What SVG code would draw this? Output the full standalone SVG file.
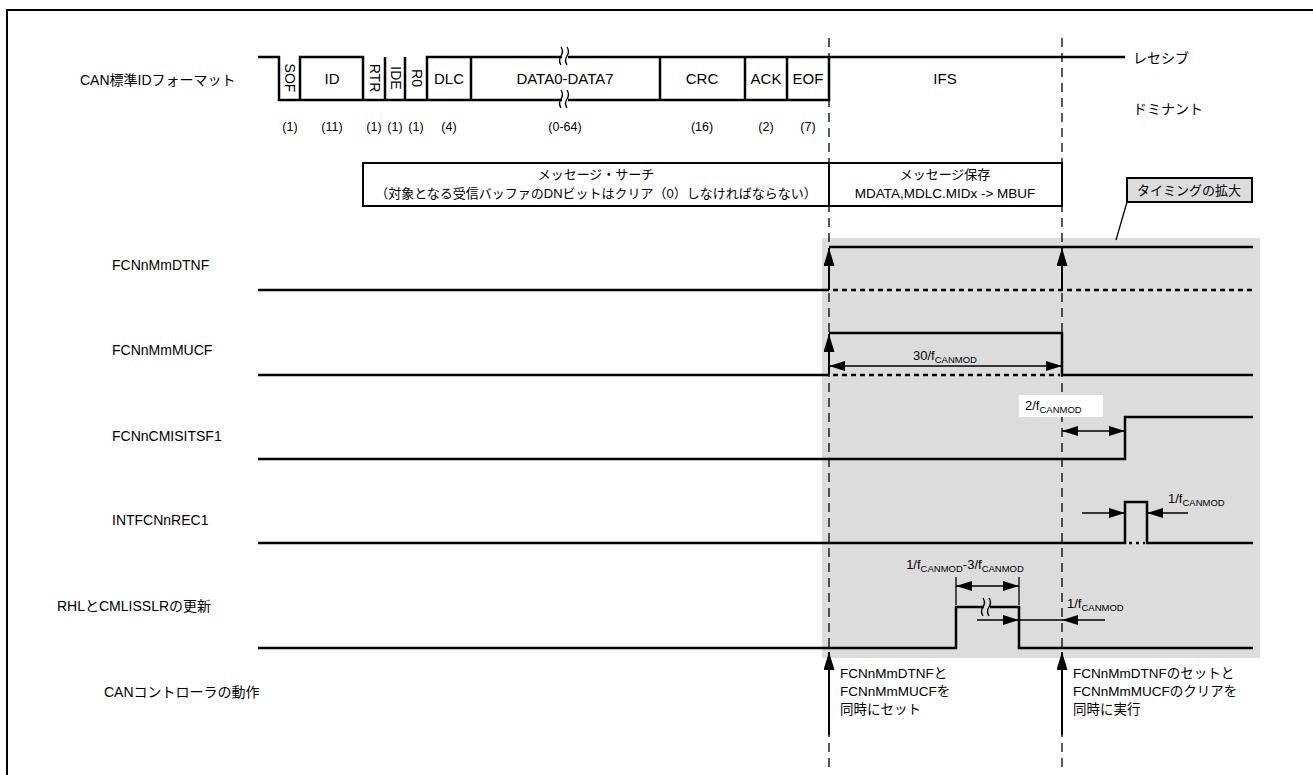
<svg xmlns="http://www.w3.org/2000/svg" width="1313" height="775" viewBox="0 0 1313 775">
<defs>
<marker id="ah" markerUnits="userSpaceOnUse" markerWidth="16" markerHeight="10" refX="16" refY="5" orient="auto-start-reverse"><path d="M0,0 L16,5 L0,10 z" fill="#000"/></marker>
<marker id="ev" markerUnits="userSpaceOnUse" markerWidth="18" markerHeight="11" refX="18" refY="5.5" orient="auto"><path d="M0,0 L18,5.5 L0,11 z" fill="#000"/></marker>
</defs>
<style>
.t{font-family:"Liberation Sans","Noto Sans CJK JP",sans-serif;font-size:13px;fill:#000}
.lb{font-size:14px}
.tp{font-size:15px}
.s{font-size:12.5px}
.sub{font-size:9.5px}
.m{text-anchor:middle}
.w{stroke:#000;stroke-width:2.5;fill:none}
.dt{stroke:#000;stroke-width:2.5;fill:none;stroke-dasharray:5 4}
.ln{stroke:#000;stroke-width:1.3;fill:none}
.dl{stroke:#000;stroke-width:1.3;fill:none;stroke-dasharray:9 6}
.ev{stroke:#000;stroke-width:2;fill:none}
.bx{fill:#fff;stroke:#000;stroke-width:2}
</style>
<rect width="1313" height="775" fill="#fff"/>
<g id="frame"><path d="M7,775 V10 H1313" class="ev"/></g>
<rect id="zoom-area" x="822" y="238" width="438" height="420" fill="#dcdcdc"/>

<g id="labels">
<text class="t lb" x="80" y="85">CAN標準IDフォーマット</text>
<text class="t lb" x="112" y="270">FCNnMmDTNF</text>
<text class="t lb" x="112" y="355">FCNnMmMUCF</text>
<text class="t lb" x="112" y="441">FCNnCMISITSF1</text>
<text class="t lb" x="112" y="525">INTFCNnREC1</text>
<text class="t lb" x="57" y="611">RHLとCMLISSLRの更新</text>
<text class="t lb" x="104" y="697">CANコントローラの動作</text>
</g>

<g id="connectors">
<path class="dl" d="M829,38 V767 M1062,38 V767"/>
<path class="ev" d="M829,735 V652" marker-end="url(#ev)"/>
<path class="ev" d="M1062,735 V652" marker-end="url(#ev)"/>
<path class="ev" d="M829,290 V248" marker-end="url(#ev)"/>
<path class="ev" d="M1062,290 V248" marker-end="url(#ev)"/>
<path class="ev" d="M829,375 V334" marker-end="url(#ev)"/>
<path class="ln" d="M1127,202 L1116,240"/>
</g>

<g id="can-frame">
<path class="w" d="M258,57 H279 V100 H363 M300,100 V57 H363 V100 M385,57 V100 M405,57 V100 M427,100 V57 H660 V100 H427 M471,57 V100 M660,57 H829 V100 H660 M745,57 V100 M787,57 V100 M829,57 H1125"/>
<path class="w" d="M363,100 H427"/>
<rect x="562" y="50" width="6" height="14" fill="#fff"/>
<rect x="562" y="93" width="6" height="14" fill="#fff"/>
<path class="ln" d="M561,47 q3,4.5 0,9 t0,9 M567,47 q3,4.5 0,9 t0,9 M561,90 q3,4.5 0,9 t0,9 M567,90 q3,4.5 0,9 t0,9"/>
<text class="t m" transform="rotate(90 289.5 78)" x="289.5" y="82.5" style="font-size:14px">SOF</text>
<text class="t m" transform="rotate(90 374 78)" x="374" y="82.5" style="font-size:14px">RTR</text>
<text class="t m" transform="rotate(90 395 78)" x="395" y="82.5" style="font-size:14px">IDE</text>
<text class="t m" transform="rotate(90 416 78)" x="416" y="82.5" style="font-size:14px">R0</text>
<text class="t tp m" x="332" y="84">ID</text>
<text class="t tp m" x="449" y="84">DLC</text>
<text class="t tp m" x="565" y="84">DATA0-DATA7</text>
<text class="t tp m" x="702" y="84">CRC</text>
<text class="t tp m" x="766" y="84">ACK</text>
<text class="t tp m" x="808" y="84">EOF</text>
<text class="t tp m" x="945" y="84">IFS</text>
<text class="t lb" x="1133" y="63">レセシブ</text>
<text class="t lb" x="1133" y="114">ドミナント</text>
<g class="t s m">
<text x="290" y="131">(1)</text><text x="332" y="131">(11)</text><text x="374" y="131">(1)</text><text x="395" y="131">(1)</text><text x="416" y="131">(1)</text><text x="449" y="131">(4)</text><text x="565" y="131">(0-64)</text><text x="702" y="131">(16)</text><text x="766" y="131">(2)</text><text x="808" y="131">(7)</text>
</g>
</g>

<g id="msg-search">
<rect class="bx" x="363" y="163" width="466" height="43"/>
<text class="t m" x="596" y="179">メッセージ・サーチ</text>
<text class="t m" x="596" y="198">（対象となる受信バッファのDNビットはクリア（0）しなければならない）</text>
</g>
<g id="msg-store">
<rect class="bx" x="829" y="163" width="233" height="43"/>
<text class="t m" x="945" y="179">メッセージ保存</text>
<text class="t m" x="945" y="198" style="font-size:13.5px">MDATA,MDLC.MIDx -&gt; MBUF</text>
</g>
<g id="timing-note">
<rect x="1127" y="178" width="125" height="24" fill="#dcdcdc" stroke="#000" stroke-width="2"/>
<text class="t m" x="1189" y="195">タイミングの拡大</text>
</g>

<g id="dtnf">
<path class="w" d="M258,290 H829 M829,247 H1253"/>
<path class="dt" d="M833,290 H1253"/>
</g>
<g id="mucf">
<path class="w" d="M258,375 H829 M829,333 H1062 V375 H1253"/>
<path class="dt" d="M833,375 H1060"/>
<path class="ln" d="M829,366 H1062" marker-start="url(#ah)" marker-end="url(#ah)"/>
<text class="t m" x="945" y="360">30/f<tspan class="sub" dy="3">CANMOD</tspan></text>
</g>
<g id="cmisitsf1">
<path class="w" d="M258,459 H1125 V417 H1253"/>
<rect x="1019" y="395" width="84" height="22" fill="#fff"/>
<text class="t" x="1025" y="410">2/f<tspan class="sub" dy="3">CANMOD</tspan></text>
<path class="ln" d="M1062,431 H1125" marker-start="url(#ah)" marker-end="url(#ah)"/>
</g>
<g id="intf">
<path class="w" d="M258,543 H1125 V502 H1147 V543 H1253"/>
<path class="dt" d="M1129,543 H1145" style="stroke-dasharray:3 4"/>
<path class="ln" d="M1082,513 H1125" marker-end="url(#ah)"/>
<path class="ln" d="M1188,513 H1147" marker-end="url(#ah)"/>
<text class="t" x="1168" y="503">1/f<tspan class="sub" dy="3">CANMOD</tspan></text>
</g>
<g id="rhl">
<path class="w" d="M258,648 H956 V607 H1019 V648 H1253"/>
<rect x="984" y="600" width="6" height="14" fill="#dcdcdc"/>
<path class="ln" d="M983,598 q3,4.5 0,9 t0,9 M989,598 q3,4.5 0,9 t0,9"/>
<path class="ln" d="M956,577 V605 M1019,577 V605"/>
<path class="ln" d="M956,586 H1019" marker-start="url(#ah)" marker-end="url(#ah)"/>
<text class="t m" x="965" y="569">1/f<tspan class="sub" dy="3">CANMOD</tspan><tspan dy="-3">-3/f</tspan><tspan class="sub" dy="3">CANMOD</tspan></text>
<path class="ln" d="M977,620 H1019" marker-end="url(#ah)"/>
<path class="ln" d="M1019,620 H1062"/>
<path class="ln" d="M1105,620 H1062" marker-end="url(#ah)"/>
<text class="t" x="1067" y="608">1/f<tspan class="sub" dy="3">CANMOD</tspan></text>
</g>
<g id="ctrl-notes">
<text class="t" x="840" y="678" style="font-size:13.5px">FCNnMmDTNFと</text>
<text class="t" x="840" y="696" style="font-size:13.5px">FCNnMmMUCFを</text>
<text class="t" x="840" y="714" style="font-size:13.5px">同時にセット</text>
<text class="t" x="1073" y="678" style="font-size:13.5px">FCNnMmDTNFのセットと</text>
<text class="t" x="1073" y="696" style="font-size:13.5px">FCNnMmMUCFのクリアを</text>
<text class="t" x="1073" y="714" style="font-size:13.5px">同時に実行</text>
</g>
</svg>
